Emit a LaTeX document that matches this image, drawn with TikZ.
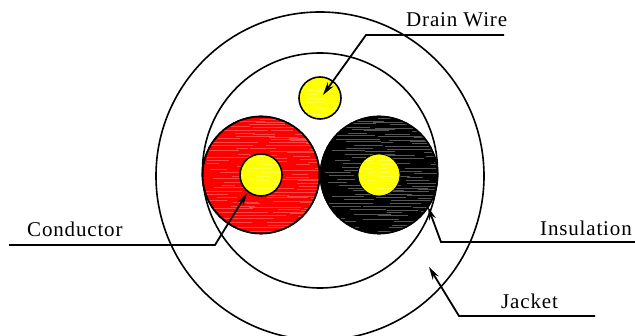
\documentclass[tikz,border=0pt]{standalone}
\usepackage{fontspec}
\setmainfont[LetterSpace=4]{Liberation Serif}
\usetikzlibrary{arrows.meta}
\definecolor{wirered}{RGB}{255,0,0}
\definecolor{wireyellow}{RGB}{255,255,0}
\definecolor{wirestreakred}{RGB}{255,70,70}
\definecolor{wirestreakblack}{RGB}{85,85,85}
\definecolor{wirestreakyellow}{RGB}{255,255,70}
\tikzset{
  sheath/.style={draw,circle,inner sep=0pt,line width=1.6pt,minimum size=#1},
  leader/.style={line width=1.8pt,-{Stealth[length=13pt,width=7pt]}},
  callout/.style={anchor=base west,inner sep=0pt,font=\fontsize{21}{23}\selectfont}
}
\newcommand{\streaks}[5]{%
  \begin{scope}
    \clip (#1,#2) circle (#3);
    \foreach \row in {0,...,#5} {
      \pgfmathsetmacro{\rowy}{#2-#3+\row*2*#3/#5+rnd*1.4}
      \foreach \piece in {0,1,2} {
        \pgfmathsetmacro{\rowx}{#1-#3+\piece*.7*#3+rnd*.6*#3}
        \pgfmathsetmacro{\rowl}{#3*(.2+.7*rnd)}
        \draw[#4,line width=.7pt] (\rowx,\rowy+\piece*.7) -- ++(\rowl,0);
      }
    }
  \end{scope}
}
\begin{document}
\begin{tikzpicture}[x=1pt,y=-1pt]
\pgfmathsetseed{7}
\path[use as bounding box] (0,0) rectangle (635,336);
\begin{scope}
\clip (0,0) rectangle (635,336);
\node[sheath=328pt] (jacket) at (320,176) {};
\end{scope}
\node[sheath=235pt] (shield) at (320,170.5) {};
\node[sheath=117pt,fill=wirered] (redcore) at (261,175) {};
\node[sheath=117pt,fill=black] (blackcore) at (379,175) {};
\streaks{261}{175}{58}{wirestreakred}{38}
\streaks{379}{175}{58}{wirestreakblack}{38}
\node[sheath=117pt] at (261,175) {};
\node[sheath=117pt] at (379,175) {};
\node[sheath=42pt,fill=wireyellow] (redcond) at (261,175) {};
\node[sheath=42pt,fill=wireyellow,line width=.8pt] (blackcond) at (379,175) {};
\node[sheath=42pt,fill=wireyellow] (drain) at (320,98) {};
\streaks{261}{175}{20}{wirestreakyellow}{10}
\streaks{379}{175}{20}{wirestreakyellow}{10}
\streaks{320}{98}{20}{wirestreakyellow}{10}
% labels
\node[callout] (drainlabel) at (406,27) {Drain Wire};
\node[callout] (condlabel) at (27,237) {Conductor};
\node[callout] (insullabel) at (540,236) {Insulation};
\node[callout] (jacketlabel) at (501,309) {Jacket};
% leaders
\coordinate (drainend) at (504,35);
\coordinate (drainbend) at (366,35);
\coordinate (draintip) at (323,95);
\coordinate (condend) at (9,245);
\coordinate (condbend) at (215,245);
\coordinate (condtip) at (247,193);
\coordinate (insulend) at (635,242);
\coordinate (insulbend) at (441,242);
\coordinate (insultip) at (428,207);
\coordinate (jacketend) at (595,316);
\coordinate (jacketbend) at (459,316);
\coordinate (jackettip) at (429,267);
\draw[leader] (drainend) -- (drainbend) -- (draintip);
\draw[leader] (condend) -- (condbend) -- (condtip);
\draw[leader] (insulend) -- (insulbend) -- (insultip);
\draw[leader] (jacketend) -- (jacketbend) -- (jackettip);
\end{tikzpicture}
\end{document}
